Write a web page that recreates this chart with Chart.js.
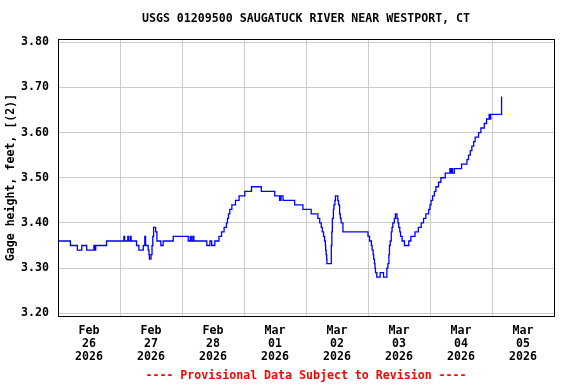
<!DOCTYPE html>
<html>
<head>
<meta charset="utf-8">
<script src="https://cdn.jsdelivr.net/npm/chart.js@4/dist/chart.umd.min.js"></script>
<style>
  html, body { margin: 0; padding: 0; background: #ffffff; }
  #wrap { width: 576px; height: 384px; }
</style>
</head>
<body>
<div id="wrap"><canvas id="c" width="576" height="384"></canvas></div>
<script>
// ---- data (hours since 2026-02-26 00:00, gage height in feet) ----
const hours = [0,4.8,7.5,9.2,11.1,13.9,14.2,14.6,18.8,25.5,25.8,27.0,27.3,28.0,28.3,30.4,31.3,33.0,33.6,33.9,34.9,35.2,35.4,36.0,36.4,36.7,37.0,37.8,38.3,39.8,40.7,44.6,
  50.4,51.2,51.6,52.2,52.6,57.6,58.8,59.5,60.7,62.3,63.3,64.3,65.2,65.6,66.0,66.5,67.3,68.7,70.1,72.3,74.9,78.7,83.9,85.8,86.3,87.1,91.6,94.8,
  98.0,100.6,101.3,101.9,102.3,102.8,103.2,103.5,103.6,103.8,104.0,104.1,105.8,106.0,106.2,106.6,106.8,107.2,107.4,108.3,108.6,109.0,109.3,109.6,110.3,
  120.0,120.6,121.3,121.6,122.0,122.2,122.5,122.7,122.9,123.4,124.7,126.0,127.3,127.7,128.1,128.3,128.6,129.0,129.3,129.6,130.2,130.6,131.2,131.6,131.9,132.3,132.6,133.2,134.1,135.8,136.6,
  138.2,139.5,140.6,141.5,142.4,143.5,144.0,144.4,145.0,145.7,146.3,147.3,148.2,149.9,151.7,152.0,152.4,152.7,153.4,156.2,158.3,158.9,159.6,160.2,160.9,161.5,162.8,163.7,165.0,165.9,166.9,167.2,167.5,171.7];
const gage = [3.36,3.35,3.34,3.35,3.34,3.35,3.34,3.35,3.36,3.37,3.36,3.37,3.36,3.37,3.36,3.35,3.34,3.35,3.37,3.35,3.34,3.33,3.32,3.33,3.35,3.37,3.39,3.38,3.36,3.35,3.36,3.37,
  3.36,3.37,3.36,3.37,3.36,3.35,3.36,3.35,3.36,3.37,3.38,3.39,3.40,3.41,3.42,3.43,3.44,3.45,3.46,3.47,3.48,3.47,3.46,3.45,3.46,3.45,3.44,3.43,
  3.42,3.41,3.40,3.39,3.38,3.37,3.36,3.35,3.34,3.33,3.32,3.31,3.35,3.38,3.41,3.43,3.44,3.45,3.46,3.45,3.44,3.42,3.41,3.40,3.38,
  3.37,3.36,3.35,3.34,3.33,3.32,3.31,3.30,3.29,3.28,3.29,3.28,3.30,3.31,3.33,3.35,3.36,3.38,3.39,3.40,3.41,3.42,3.41,3.40,3.39,3.38,3.37,3.36,3.35,3.36,3.37,
  3.38,3.39,3.40,3.41,3.42,3.43,3.44,3.45,3.46,3.47,3.48,3.49,3.50,3.51,3.52,3.51,3.52,3.51,3.52,3.53,3.54,3.55,3.56,3.57,3.58,3.59,3.60,3.61,3.62,3.63,3.64,3.63,3.64,3.68];
const dayMonths = ['Feb','Feb','Feb','Mar','Mar','Mar','Mar','Mar'];
const dayNums = ['26','27','28','01','02','03','04','05'];
const dayYears = ['2026','2026','2026','2026','2026','2026','2026','2026'];
const yTicks = [3.20,3.30,3.40,3.50,3.60,3.70,3.80];

const titleText = 'USGS 01209500 SAUGATUCK RIVER NEAR WESTPORT, CT';
const yTitleText = 'Gage height, feet, [(2)]';
const footerText = '---- Provisional Data Subject to Revision ----';

const FONT = "'DejaVu Sans Mono', 'Liberation Mono', monospace";
Chart.defaults.font.family = FONT;
Chart.defaults.font.size = 11.6;
Chart.defaults.font.weight = 'bold';
Chart.defaults.color = '#000000';

const frame = {
  id: 'frame',
  afterDraw(chart) {
    const a = chart.chartArea, ctx = chart.ctx;
    ctx.save();
    ctx.strokeStyle = '#000000';
    ctx.lineWidth = 1;
    ctx.strokeRect(Math.round(a.left) + 0.5, Math.round(a.top) + 0.5,
                   Math.round(a.right - a.left), Math.round(a.bottom - a.top));
    ctx.restore();
  }
};

new Chart(document.getElementById('c'), {
  type: 'line',
  data: {
    datasets: [{
      data: hours.map((h, i) => ({ x: h, y: gage[i] })),
      borderColor: '#0000ff',
      borderWidth: 1.3,
      pointRadius: 0,
      stepped: true,
      fill: false
    }]
  },
  options: {
    responsive: false,
    animation: false,
    devicePixelRatio: 1,
    layout: { padding: { left: 0, right: 22, top: 0, bottom: 0 } },
    plugins: {
      legend: { display: false },
      tooltip: { enabled: false },
      title: {
        display: true, text: titleText, fullSize: false,
        color: '#000000',
        font: { family: FONT, size: 11.6, weight: 'bold', lineHeight: 1.2 },
        padding: { top: 12, bottom: 13.08 }
      },
      subtitle: {
        display: true, text: footerText, position: 'bottom', fullSize: false,
        color: '#ff0000',
        font: { family: FONT, size: 11.6, weight: 'bold', lineHeight: 1.2 },
        padding: { top: 3, bottom: 1.08 }
      }
    },
    scales: {
      x: {
        type: 'linear', min: 0, max: 192,
        afterBuildTicks(scale) {
          const t = [];
          for (let h = 0; h <= 192; h += 12) t.push({ value: h });
          scale.ticks = t;
        },
        afterFit(scale) { scale.height = 50; },
        grid: {
          drawTicks: false,
          lineWidth: 1,
          color: (c) => {
            const v = c.tick ? c.tick.value : -1;
            return (v % 24 === 0 && v > 0 && v < 192) ? '#cccccc' : 'rgba(0,0,0,0)';
          }
        },
        border: { display: false },
        ticks: {
          autoSkip: false, maxRotation: 0, minRotation: 0, padding: 8,
          color: '#000000',
          font: { family: FONT, size: 11.6, weight: 'bold', lineHeight: '13px' },
          callback: (v) => {
            if (v % 24 !== 12) return '';
            const d = Math.floor(v / 24);
            return [dayMonths[d], dayNums[d], dayYears[d]];
          }
        }
      },
      y: {
        type: 'linear', min: 3.194, max: 3.807,
        afterBuildTicks(scale) { scale.ticks = yTicks.map(v => ({ value: v })); },
        afterFit(scale) { scale.width = 58; },
        grid: { drawTicks: false, color: '#cccccc', lineWidth: 1 },
        border: { display: false },
        ticks: {
          padding: 9, color: '#000000',
          font: { family: FONT, size: 11.6, weight: 'bold' },
          callback: (v) => Number(v).toFixed(2)
        },
        title: {
          display: true, text: yTitleText, color: '#000000',
          font: { family: FONT, size: 11.6, weight: 'bold', lineHeight: 1.2 },
          padding: { top: 4.5, bottom: 0 }
        }
      }
    }
  },
  plugins: [frame]
});
</script>
</body>
</html>
